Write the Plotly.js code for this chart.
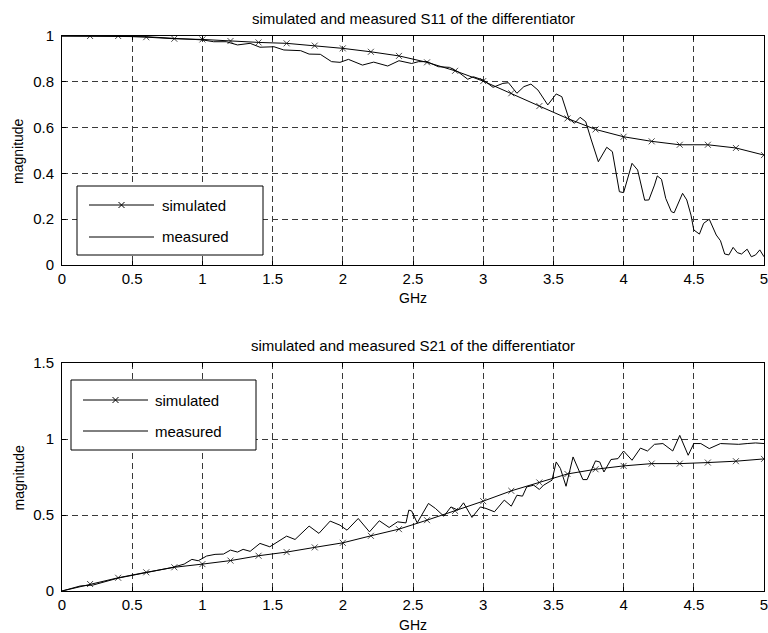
<!DOCTYPE html>
<html><head><meta charset="utf-8">
<script src="https://cdn.plot.ly/plotly-3.0.1.min.js"></script>
<style>html,body{margin:0;padding:0;background:#fff;}#chart{width:768px;height:633px;}</style>
</head><body><div id="chart"></div>
<script>
// ---------- data ----------
const simFreq = [0,0.2,0.4,0.6,0.8,1.0,1.2,1.4,1.6,1.8,2.0,2.2,2.4,2.6,2.8,3.0,3.2,3.4,3.6,3.8,4.0,4.2,4.4,4.6,4.8,5.0];
const simS11 = [1.0,1.0,1.0,0.995,0.988,0.985,0.978,0.972,0.968,0.958,0.946,0.931,0.913,0.885,0.848,0.803,0.75,0.694,0.64,0.592,0.56,0.54,0.525,0.525,0.511,0.48];
const simS21 = [0,0.046,0.087,0.123,0.156,0.177,0.2,0.232,0.256,0.287,0.317,0.363,0.407,0.466,0.527,0.591,0.659,0.714,0.77,0.801,0.823,0.838,0.838,0.845,0.854,0.869];

const measS11Freq = [0,0.2,0.4,0.5,0.6,0.79,0.89,1.0,1.08,1.17,1.25,1.34,1.41,1.51,1.58,1.70,1.76,1.84,1.92,1.98,2.04,2.14,2.22,2.32,2.40,2.49,2.54,2.6,2.68,2.76,2.82,2.89,2.93,3.0,3.07,3.14,3.18,3.24,3.29,3.34,3.39,3.46,3.52,3.56,3.61,3.65,3.69,3.73,3.77,3.82,3.88,3.92,3.97,4.0,4.06,4.1,4.15,4.18,4.22,4.24,4.27,4.30,4.34,4.36,4.42,4.45,4.48,4.50,4.54,4.57,4.61,4.63,4.66,4.69,4.72,4.75,4.78,4.81,4.84,4.88,4.91,4.94,4.97,5.0];
const measS11 = [1.0,1.0,1.0,1.0,0.997,0.99,0.986,0.983,0.975,0.975,0.961,0.968,0.951,0.953,0.939,0.936,0.921,0.92,0.888,0.885,0.898,0.873,0.886,0.869,0.892,0.88,0.888,0.888,0.866,0.863,0.844,0.811,0.822,0.808,0.776,0.793,0.796,0.75,0.779,0.79,0.764,0.699,0.747,0.735,0.64,0.619,0.645,0.626,0.546,0.451,0.514,0.495,0.32,0.316,0.444,0.415,0.283,0.284,0.349,0.389,0.374,0.291,0.233,0.228,0.313,0.284,0.218,0.153,0.135,0.182,0.2,0.17,0.131,0.106,0.048,0.044,0.077,0.054,0.048,0.069,0.036,0.044,0.066,0.036];

const measS21Freq = [0,0.13,0.22,0.4,0.6,0.79,0.87,0.925,0.97,1.03,1.09,1.15,1.2,1.25,1.29,1.34,1.41,1.48,1.6,1.66,1.76,1.83,1.91,1.98,2.03,2.11,2.19,2.26,2.33,2.39,2.45,2.47,2.49,2.53,2.61,2.66,2.72,2.77,2.82,2.86,2.92,2.98,3.02,3.08,3.15,3.2,3.24,3.28,3.31,3.36,3.40,3.43,3.49,3.52,3.55,3.59,3.64,3.71,3.74,3.80,3.83,3.86,3.91,3.96,4.0,4.06,4.12,4.17,4.22,4.28,4.35,4.40,4.46,4.50,4.55,4.61,4.69,4.76,4.82,4.88,4.94,5.0];
const measS21 = [0,0.033,0.039,0.085,0.121,0.156,0.177,0.208,0.199,0.23,0.241,0.243,0.269,0.256,0.274,0.261,0.313,0.291,0.361,0.339,0.427,0.379,0.46,0.433,0.4,0.477,0.389,0.462,0.418,0.455,0.448,0.532,0.527,0.448,0.576,0.543,0.492,0.553,0.532,0.58,0.484,0.553,0.543,0.521,0.598,0.558,0.63,0.624,0.685,0.696,0.668,0.696,0.729,0.849,0.806,0.689,0.882,0.733,0.733,0.856,0.849,0.783,0.865,0.871,0.921,0.86,0.94,0.921,0.965,0.97,0.921,1.024,0.893,0.97,0.97,0.937,0.97,0.965,0.965,0.97,0.974,0.97];

const xTickVals = [0,0.5,1,1.5,2,2.5,3,3.5,4,4.5,5];
const xTickText = ['0','0.5','1','1.5','2','2.5','3','3.5','4','4.5','5'];
const topTitle = 'simulated and measured S11 of the differentiator';
const botTitle = 'simulated and measured S21 of the differentiator';
const xLabel = 'GHz';
const yLabel = 'magnitude';
const seriesNames = ['simulated','measured'];

// ---------- chart ----------
const FONT = '"Liberation Sans", Arial, sans-serif';
const markerSizes = simFreq.map((f,i) => i === 0 ? 0 : 6);
const simStyle = {
  mode: 'lines+markers',
  line: {color: '#000', width: 1},
  marker: {symbol: 'x-thin', size: markerSizes, color: '#000', line: {color: '#000', width: 1}},
  showlegend: false, hoverinfo: 'skip'
};
const measStyle = {mode: 'lines', line: {color: '#000', width: 1}, showlegend: false, hoverinfo: 'skip'};

const traces = [
  Object.assign({x: simFreq, y: simS11, xaxis: 'x', yaxis: 'y', name: seriesNames[0]}, simStyle),
  Object.assign({x: measS11Freq, y: measS11, xaxis: 'x', yaxis: 'y', name: seriesNames[1]}, measStyle),
  Object.assign({x: simFreq, y: simS21, xaxis: 'x2', yaxis: 'y2', name: seriesNames[0]}, simStyle),
  Object.assign({x: measS21Freq, y: measS21, xaxis: 'x2', yaxis: 'y2', name: seriesNames[1]}, measStyle)
];

const axBase = {
  showline: true, linecolor: '#000', linewidth: 1, mirror: 'ticks',
  ticks: 'inside', ticklen: 4, tickcolor: '#000',
  showgrid: true, gridcolor: '#3a3a3a', gridwidth: 1, griddash: '6px,4px',
  zeroline: false, tickfont: {family: FONT, size: 15, color: '#000'}, fixedrange: true,
  ticklabeloverflow: 'allow'
};
const xAx = (anchor) => Object.assign({}, axBase, {anchor: anchor, domain: [0,1], range: [0,5], tickmode: 'array', tickvals: xTickVals, ticktext: xTickText});

// helpers: pixel -> paper coordinates
const L = 62, R = 764, T = 36, B = 591;
const px = (p) => (p - L) / (R - L);
const py = (p) => (B - p) / (B - T);

const annFont = {family: FONT, size: 14, color: '#000'};
const annotations = [
  {text: topTitle, x: 0.5, y: py(18.5), xref: 'paper', yref: 'paper', showarrow: false, xanchor: 'center', yanchor: 'middle', font: {family: FONT, size: 15, color: '#000'}},
  {text: botTitle, x: 0.5, y: py(345.5), xref: 'paper', yref: 'paper', showarrow: false, xanchor: 'center', yanchor: 'middle', font: {family: FONT, size: 15, color: '#000'}},
  {text: xLabel, x: 0.5, y: py(298), xref: 'paper', yref: 'paper', showarrow: false, xanchor: 'center', yanchor: 'middle', font: annFont},
  {text: xLabel, x: 0.5, y: py(625), xref: 'paper', yref: 'paper', showarrow: false, xanchor: 'center', yanchor: 'middle', font: annFont},
  {text: yLabel, x: px(18), y: py(151), xref: 'paper', yref: 'paper', showarrow: false, textangle: -90, xanchor: 'center', yanchor: 'middle', font: annFont},
  {text: yLabel, x: px(18), y: py(477.5), xref: 'paper', yref: 'paper', showarrow: false, textangle: -90, xanchor: 'center', yanchor: 'middle', font: annFont}
];
const shapes = [];

function addLegend(box, ySim, yMeas, lineX0, lineX1, crossX, textX) {
  shapes.push({type: 'rect', xref: 'paper', yref: 'paper', x0: px(box[0]), x1: px(box[1]), y0: py(box[3]), y1: py(box[2]),
               line: {color: '#000', width: 1}, fillcolor: '#fff', layer: 'above'});
  shapes.push({type: 'line', xref: 'paper', yref: 'paper', x0: px(lineX0), x1: px(lineX1), y0: py(ySim), y1: py(ySim), line: {color: '#000', width: 1}, layer: 'above'});
  shapes.push({type: 'line', xref: 'paper', yref: 'paper', x0: px(lineX0), x1: px(lineX1), y0: py(yMeas), y1: py(yMeas), line: {color: '#000', width: 1}, layer: 'above'});
  [[-3,3],[3,-3]].forEach(d => shapes.push({type: 'line', xref: 'paper', yref: 'paper', xsizemode: 'pixel', ysizemode: 'pixel',
      xanchor: px(crossX), yanchor: py(ySim), x0: -3, x1: 3, y0: d[0], y1: d[1], line: {color: '#000', width: 1}, layer: 'above'}));
  annotations.push({text: seriesNames[0], x: px(textX), y: py(ySim), xref: 'paper', yref: 'paper', showarrow: false, xanchor: 'left', yanchor: 'middle', font: {family: FONT, size: 15, color: '#000'}});
  annotations.push({text: seriesNames[1], x: px(textX), y: py(yMeas), xref: 'paper', yref: 'paper', showarrow: false, xanchor: 'left', yanchor: 'middle', font: {family: FONT, size: 15, color: '#000'}});
}
addLegend([77,263,186,255], 205, 237, 89, 154, 121.5, 160);
addLegend([71,256,380,450], 400, 431, 83, 148, 115.5, 153);

const layout = {
  width: 768, height: 633,
  margin: {l: L, r: 768 - R, t: T, b: 633 - B},
  paper_bgcolor: '#fff', plot_bgcolor: '#fff',
  showlegend: false,
  xaxis: xAx('y'),
  yaxis: Object.assign({}, axBase, {anchor: 'x', domain: [py(265), 1], range: [0,1], dtick: 0.2, tick0: 0, ticklabelstandoff: 4}),
  xaxis2: xAx('y2'),
  yaxis2: Object.assign({}, axBase, {anchor: 'x2', domain: [0, py(363)], range: [0,1.5], dtick: 0.5, tick0: 0, ticklabelstandoff: 4}),
  annotations: annotations,
  shapes: shapes
};

Plotly.newPlot('chart', traces, layout, {staticPlot: true, displayModeBar: false});
</script>
</body></html>
